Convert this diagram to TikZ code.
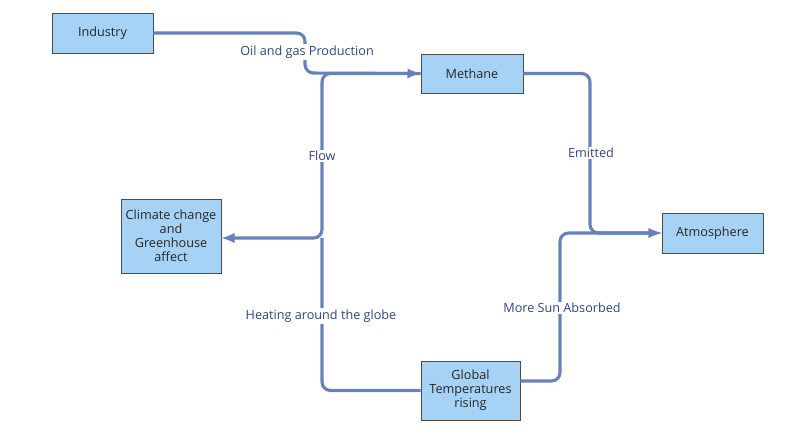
\documentclass[tikz,border=0pt]{standalone}
\usepackage{fontspec}
\setmainfont{Open Sans}
\usetikzlibrary{positioning}
\definecolor{boxfill}{RGB}{166,210,245}
\definecolor{linkblue}{RGB}{103,130,186}
\definecolor{textblue}{RGB}{50,70,120}

\begin{document}
\begin{tikzpicture}[x=0.025cm, y=-0.025cm,
    box/.style={draw=black!70, fill=boxfill, text=black!85, font=\fontsize{9}{10}\selectfont, align=center, inner sep=2pt},
    link/.style={draw=linkblue, line width=2.2pt, rounded corners=6pt},
    lbl/.style={fill=white, text=textblue, font=\fontsize{9}{10}\selectfont, inner sep=1pt}]
    \useasboundingbox (0,0) rectangle (800,438);

    % boxes
    \node[box, minimum width=101*0.025cm, minimum height=40*0.025cm] (industry) at (102.5,33) {Industry};
    \node[box, minimum width=102*0.025cm, minimum height=39*0.025cm] (methane) at (472,73.5) {Methane};
    \node[box, minimum width=101*0.025cm, minimum height=40*0.025cm] (atmos) at (712.5,233) {Atmosphere};
    \node[box, minimum width=100*0.025cm, minimum height=74*0.025cm, inner sep=0pt] (climate) at (171,236) {Climate change\\and\\Greenhouse\\affect};
    \node[box, minimum width=99*0.025cm, minimum height=59*0.025cm, inner sep=0pt] (global) at (470.5,390.5) {Global\\Temperatures\\rising};

    % connectors
    \draw[link, -latex] (industry.east) -- (305,33) -- (305,73) -- (methane.west);
    \draw[link, -latex] (methane.east) -- (590,73.5) -- (590,233) -- (atmos.west);
    \draw[link, -latex] (global.east |- 0,381) -- (560,381) -- (560,233) -- (atmos.west);
    \draw[link, -latex] (methane.west) -- (322,73.5) -- (322,238) -- (climate.east |- 0,238);
    \draw[link] (global.west) -- (322,390.5) -- (322,238);

    % labels
    \node[lbl] (oil) at (307,52) {Oil and gas Production};
    \node[lbl] (emitted) at (591,153) {Emitted};
    \node[lbl] (sun) at (562,308) {More Sun Absorbed};
    \node[lbl] (flow) at (322,156) {Flow};
    \node[lbl] (heat) at (321,316) {Heating around the globe};
\end{tikzpicture}
\end{document}
